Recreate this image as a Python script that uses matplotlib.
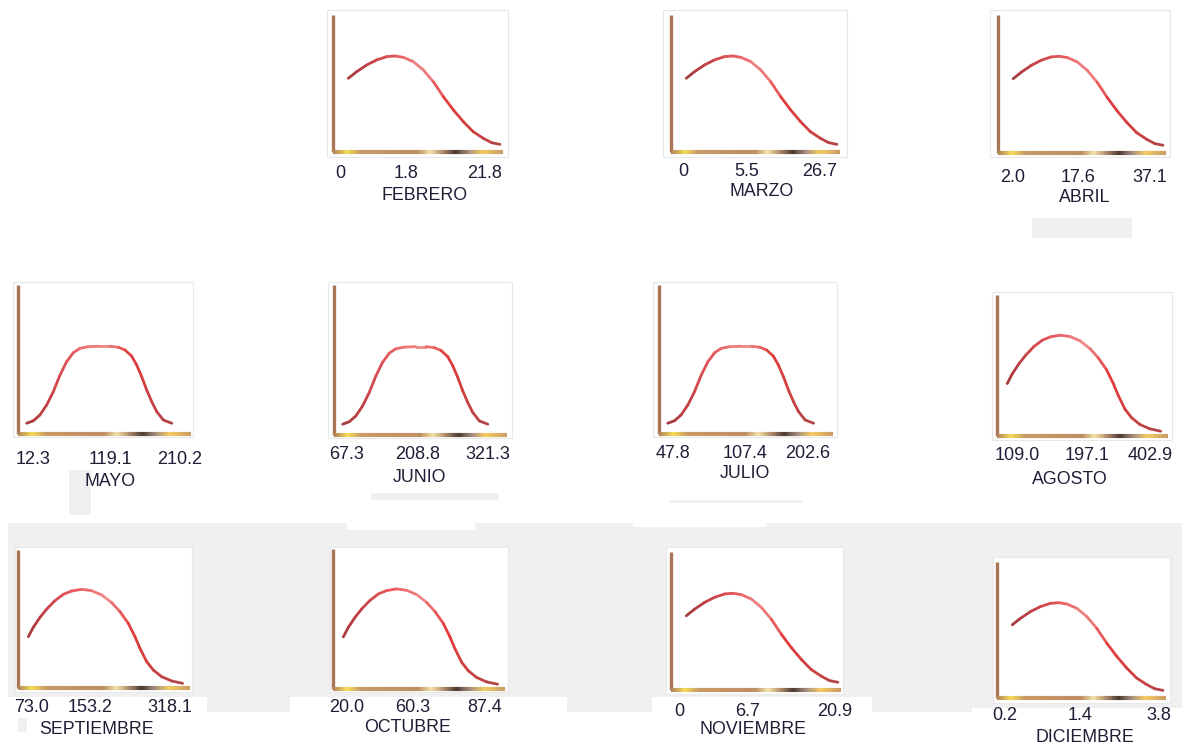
import matplotlib
matplotlib.use('Agg')
import matplotlib.pyplot as plt
import numpy as np
from matplotlib.collections import LineCollection
from matplotlib.colors import LinearSegmentedColormap
from matplotlib.patches import Rectangle

W, H = 1182, 749

MONTHS = ['FEBRERO', 'MARZO', 'ABRIL', 'MAYO', 'JUNIO', 'JULIO', 'AGOSTO',
          'SEPTIEMBRE', 'OCTUBRE', 'NOVIEMBRE', 'DICIEMBRE']
LOW = ['0', '0', '2.0', '12.3', '67.3', '47.8', '109.0', '73.0', '20.0', '0', '0.2']
MID = ['1.8', '5.5', '17.6', '119.1', '208.8', '107.4', '197.1', '153.2', '60.3', '6.7', '1.4']
HIGH = ['21.8', '26.7', '37.1', '210.2', '321.3', '202.6', '402.9', '318.1', '87.4', '20.9', '3.8']
SHAPE = ['skew', 'skew', 'skew', 'flat', 'flat', 'flat', 'broad',
         'broad', 'broad', 'skew', 'skew']

# curve shapes (fraction of the axis box)
SKEW_X = [0.090, 0.139, 0.198, 0.257, 0.316, 0.365, 0.414, 0.473, 0.531, 0.590,
          0.649, 0.708, 0.767, 0.825, 0.884, 0.933, 0.982]
SKEW_Y = [0.538, 0.586, 0.635, 0.672, 0.696, 0.701, 0.691, 0.659, 0.599, 0.513,
          0.404, 0.307, 0.221, 0.148, 0.100, 0.068, 0.056]
FLAT_X = [0.050, 0.089, 0.127, 0.166, 0.204, 0.243, 0.281, 0.320, 0.358, 0.406, 0.474,
          0.532, 0.580, 0.618, 0.657, 0.686, 0.715, 0.744, 0.773, 0.802, 0.840, 0.889]
FLAT_Y = [0.072, 0.089, 0.128, 0.195, 0.284, 0.396, 0.485, 0.546, 0.575, 0.586, 0.589,
          0.589, 0.582, 0.564, 0.523, 0.463, 0.385, 0.295, 0.217, 0.150, 0.094, 0.072]
BROAD_X = [0.060, 0.089, 0.128, 0.167, 0.215, 0.264, 0.312, 0.370, 0.428, 0.487,
           0.545, 0.593, 0.641, 0.680, 0.709, 0.748, 0.787, 0.835, 0.893, 0.957]
BROAD_Y = [0.372, 0.440, 0.512, 0.572, 0.633, 0.679, 0.703, 0.715, 0.705, 0.674,
           0.618, 0.553, 0.469, 0.372, 0.288, 0.191, 0.130, 0.082, 0.051, 0.034]
SHAPES = {'skew': (SKEW_X, SKEW_Y), 'flat': (FLAT_X, FLAT_Y), 'broad': (BROAD_X, BROAD_Y)}

# layout in screen pixels (x0, y0, x1, y1), y counted from the top
PANEL_BOX = [(327, 10, 508, 157), (663, 10, 847, 157), (990, 10, 1170, 157),
             (13, 282, 193, 437), (328, 282, 512, 438), (653, 282, 837, 437), (992, 292, 1172, 440),
             (15, 547, 192, 692), (330, 547, 508, 692), (666, 547, 843, 694), (993, 557, 1170, 703)]
AXES_BOX = [(333, 15, 503, 152), (671, 15, 840, 152), (998, 15, 1166, 153),
            (18, 285, 191, 434), (334, 285, 507, 435), (659, 285, 833, 434), (997, 295, 1168, 436),
            (18, 550, 190, 688), (333, 549, 505, 689), (671, 552, 841, 690), (997, 562, 1166, 698)]
TICK_Y = [174, 172, 177, 460, 455, 453, 456, 708, 708, 711, 715]
TICK_X = [(340, 406, 485), (683, 747, 820), (1013, 1078, 1150),
          (33, 110, 180), (347, 418, 488), (673, 745, 808), (1017, 1087, 1150),
          (32, 90, 170), (347, 413, 485), (679, 748, 835), (1005, 1080, 1159)]
NAME_XY = [(425, 195), (762, 192), (1085, 197), (110, 481), (419, 477), (745, 473),
           (1070, 479), (97, 730), (408, 727), (753, 730), (1085, 737)]

GRAY_BOXES = [(8, 523, 347, 697), (347, 530, 475, 697), (475, 523, 633, 697),
              (633, 527, 766, 697), (766, 523, 1182, 697),
              (207, 697, 290, 712), (567, 697, 652, 712), (872, 697, 972, 712),
              (972, 697, 1182, 708), (18, 718, 27, 732),
              (1032, 218, 1132, 238), (69, 470, 91, 515), (371, 493, 499, 500),
              (670, 500, 802, 503)]

TEXT_COLOR = '#1e1e36'
CURVE_CMAP = LinearSegmentedColormap.from_list(
    'curve', ['#a83c40', '#cc4448', '#e85a5e', '#f08888', '#e23c3c', '#d04040', '#b44446'])
AXIS_CMAP = LinearSegmentedColormap.from_list(
    'axis', [(0.0, '#b0825c'), (0.08, '#f4dc58'), (0.16, '#c89a66'), (0.5, '#bc8e62'),
             (0.57, '#f2e4a8'), (0.64, '#b89070'), (0.72, '#4c3a32'), (0.8, '#a89080'),
             (0.88, '#f4cc62'), (1.0, '#c89a66')])


def fig_rect(x0, y0, x1, y1):
    return [x0 / W, 1 - y1 / H, (x1 - x0) / W, (y1 - y0) / H]


def add_box(fig, box, face, edge, z):
    l, b, w, h = fig_rect(*box)
    fig.patches.append(Rectangle((l, b), w, h, transform=fig.transFigure,
                                 facecolor=face, edgecolor=edge, linewidth=0.8, zorder=z))


def segments(x, y):
    pts = np.column_stack([x, y])
    return np.stack([pts[:-1], pts[1:]], axis=1)


fig = plt.figure(figsize=(W / 100, H / 100), dpi=100)
fig.patch.set_facecolor('white')

for box in GRAY_BOXES:
    add_box(fig, box, '#f0f0f0', 'none', -3)

for i, month in enumerate(MONTHS):
    add_box(fig, PANEL_BOX[i], 'white', '#e8e8e8', -2)

    ax = fig.add_axes(fig_rect(*AXES_BOX[i]))
    ax.set_zorder(1)
    ax.set_xlim(0, 1)
    ax.set_ylim(0, 1)
    ax.axis('off')

    # left axis
    ax.plot([0, 0], [0, 1], color='#a87656', linewidth=2.4, solid_capstyle='butt', clip_on=False)
    # bottom axis with its shaded look
    xs = np.linspace(0, 1, 121)
    lc = LineCollection(segments(xs, np.zeros_like(xs)), colors=AXIS_CMAP((xs[:-1] + xs[1:]) / 2),
                        linewidths=3.0, capstyle='butt', clip_on=False)
    ax.add_collection(lc)

    cx, cy = SHAPES[SHAPE[i]]
    t = np.linspace(0, 1, len(cx) - 1)
    curve = LineCollection(segments(cx, cy), colors=CURVE_CMAP(t), linewidths=2.0,
                           capstyle='round', joinstyle='round')
    ax.add_collection(curve)

    for x, lab in zip(TICK_X[i], (LOW[i], MID[i], HIGH[i])):
        fig.text(x / W, 1 - TICK_Y[i] / H, lab, ha='center', va='center', fontsize=13,
                 color=TEXT_COLOR, family='Liberation Sans', zorder=3)
    nx, ny = NAME_XY[i]
    fig.text(nx / W, 1 - ny / H, month, ha='center', va='center', fontsize=12.8,
             color=TEXT_COLOR, family='Liberation Sans', zorder=3)

fig.savefig('out.png', dpi=100)
plt.close(fig)
